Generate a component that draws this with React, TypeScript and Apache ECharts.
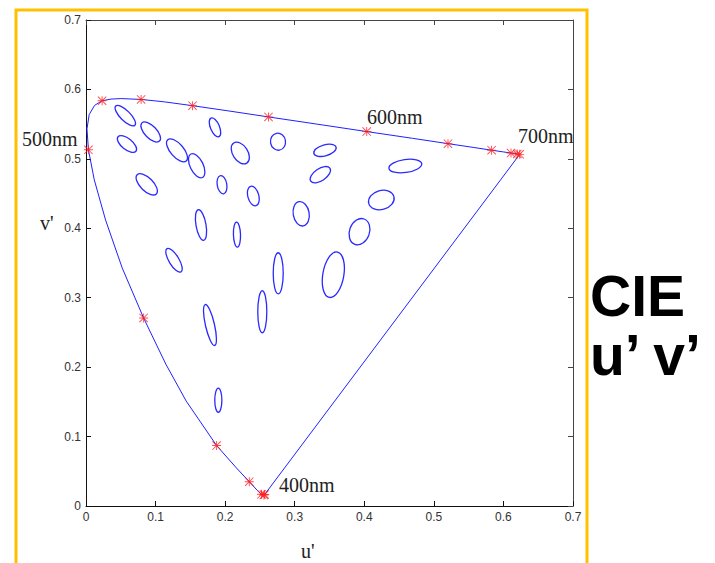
import React, { useEffect, useRef } from "react";
import * as echarts from "echarts";

// Spectral locus (CIE 1976 u'v'), wavelengths in nm
const wavelengths = [380, 390, 400, 410, 420, 430, 440, 450, 460, 470, 475, 480, 485, 490, 495, 500, 505, 510, 515, 520, 525, 530, 540, 550, 560, 570, 580, 590, 600, 610, 620, 630, 640, 650, 660, 670, 680, 690, 700];
const locusU = [0.2568, 0.2564, 0.2557, 0.2545, 0.2522, 0.2461, 0.2347, 0.2161, 0.1877, 0.1441, 0.1147, 0.0828, 0.0521, 0.0282, 0.0119, 0.0035, 0.0014, 0.0046, 0.0123, 0.0231, 0.036, 0.0501, 0.0792, 0.1127, 0.1531, 0.2026, 0.2623, 0.3315, 0.4035, 0.4692, 0.5203, 0.5565, 0.583, 0.6005, 0.6109, 0.6163, 0.6199, 0.622, 0.6234];
const locusV = [0.0166, 0.0163, 0.0159, 0.0159, 0.0169, 0.0226, 0.035, 0.0549, 0.0871, 0.151, 0.2044, 0.2708, 0.3427, 0.4117, 0.4698, 0.5131, 0.5432, 0.5638, 0.577, 0.5837, 0.5861, 0.5868, 0.5856, 0.5821, 0.5766, 0.5694, 0.5604, 0.5501, 0.5393, 0.5296, 0.5219, 0.5165, 0.5125, 0.5099, 0.5084, 0.5077, 0.507, 0.5067, 0.5065];
const markerWavelengths = [380, 400, 420, 440, 460, 480, 500, 520, 540, 560, 580, 600, 620, 640, 660, 680, 700];

// MacAdam ellipses: centre (u', v'), semi-axes (u' units), angle in degrees
const ellipseU = [0.0565, 0.093, 0.0589, 0.1308, 0.1591, 0.1854, 0.2218, 0.276, 0.3435, 0.459, 0.3368, 0.4245, 0.0873, 0.1955, 0.2405, 0.3093, 0.3931, 0.1653, 0.217, 0.1265, 0.2763, 0.3555, 0.2534, 0.1782, 0.1902];
const ellipseV = [0.5622, 0.5387, 0.5214, 0.5123, 0.4901, 0.5454, 0.5084, 0.5247, 0.5123, 0.4897, 0.4772, 0.4407, 0.4633, 0.4628, 0.4465, 0.4209, 0.3951, 0.4047, 0.3908, 0.3539, 0.3352, 0.3331, 0.2798, 0.2607, 0.1524];
const ellipseA = [0.0195, 0.0182, 0.0166, 0.0203, 0.0188, 0.0145, 0.0173, 0.0123, 0.0166, 0.0238, 0.0166, 0.0187, 0.0195, 0.0133, 0.0145, 0.0177, 0.0194, 0.0223, 0.018, 0.0195, 0.0295, 0.0331, 0.0302, 0.0302, 0.0173];
const ellipseB = [0.0072, 0.0087, 0.0079, 0.0094, 0.0094, 0.0065, 0.0108, 0.0108, 0.0079, 0.0094, 0.0087, 0.0137, 0.0094, 0.0069, 0.0079, 0.0115, 0.0144, 0.0072, 0.0051, 0.0072, 0.0072, 0.0151, 0.0065, 0.0065, 0.0051];
const ellipseAngle = [-45, -46, -39, -49, -64, -67, -57, -80, 16, 8, 34, 15, -45, -80, -75, -80, 70, -80, -88, -59, 90, 80, 90, -77, 90];

const axisTicks = [0, 0.1, 0.2, 0.3, 0.4, 0.5, 0.6, 0.7];

const SERIF = "'Liberation Serif', 'Times New Roman', 'DejaVu Serif', serif";
const SANS = "'Liberation Sans', Arial, Helvetica, sans-serif";

const ASTERISK =
  "path://M9 0H11V20H9Z M0 9H20V11H0Z M1.4 0L20 18.6L18.6 20L0 1.4Z M18.6 0L20 1.4L1.4 20L0 18.6Z";

export default function App() {
  const ref = useRef<HTMLDivElement>(null);

  useEffect(() => {
    document.body.style.margin = "0";
    if (!ref.current) return;
    const chart = echarts.init(ref.current, undefined, { renderer: "svg" });

    const locus = wavelengths.map((_, i) => [locusU[i], locusV[i]]);
    locus.push([locusU[0], locusV[0]]);
    const markers = markerWavelengths.map((w) => {
      const i = wavelengths.indexOf(w);
      return [locusU[i], locusV[i]];
    });
    const ellipses = ellipseU.map((u, i) => [u, ellipseV[i], ellipseA[i], ellipseB[i], ellipseAngle[i]]);

    const axisMin = axisTicks[0];
    const axisMax = axisTicks[axisTicks.length - 1];
    const step = axisTicks[1] - axisTicks[0];

    const baseAxis = {
      type: "value" as const,
      min: axisMin,
      max: axisMax,
      interval: step,
      splitLine: { show: false },
    };

    chart.setOption({
      animation: false,
      backgroundColor: "#ffffff",
      grid: { left: 86, top: 20, width: 487, height: 486, containLabel: false },
      xAxis: [
        {
          ...baseAxis,
          position: "bottom",
          axisLine: { show: true, onZero: false, lineStyle: { color: "#111", width: 1 } },
          axisTick: { show: true, inside: true, length: 5, lineStyle: { color: "#111" } },
          axisLabel: { color: "#333", fontSize: 12, fontFamily: SANS, margin: 5 },
        },
        {
          ...baseAxis,
          position: "top",
          axisLine: { show: true, onZero: false, lineStyle: { color: "#444", width: 1 } },
          axisTick: { show: true, inside: true, length: 5, lineStyle: { color: "#444" } },
          axisLabel: { show: false },
        },
      ],
      yAxis: [
        {
          ...baseAxis,
          position: "left",
          axisLine: { show: true, onZero: false, lineStyle: { color: "#111", width: 1 } },
          axisTick: { show: true, inside: true, length: 5, lineStyle: { color: "#111" } },
          axisLabel: { color: "#333", fontSize: 12, fontFamily: SANS, margin: 5 },
        },
        {
          ...baseAxis,
          position: "right",
          axisLine: { show: true, onZero: false, lineStyle: { color: "#444", width: 1 } },
          axisTick: { show: true, inside: true, length: 5, lineStyle: { color: "#444" } },
          axisLabel: { show: false },
        },
      ],
      series: [
        {
          type: "custom",
          name: "MacAdam ellipses",
          xAxisIndex: 0,
          yAxisIndex: 0,
          data: ellipses,
          renderItem: (_params: any, api: any) => {
            const c = api.coord([api.value(0), api.value(1)]);
            const s = api.size([api.value(2), api.value(3)]);
            return {
              type: "ellipse",
              x: c[0],
              y: c[1],
              rotation: (api.value(4) * Math.PI) / 180,
              shape: { cx: 0, cy: 0, rx: s[0], ry: s[1] },
              style: { fill: "none", stroke: "#2a2aff", lineWidth: 1.3 },
            };
          },
          z: 2,
        },
        {
          type: "line",
          name: "locus",
          xAxisIndex: 0,
          yAxisIndex: 0,
          data: locus,
          showSymbol: false,
          lineStyle: { color: "#2020ff", width: 1 },
          z: 3,
        },
        {
          type: "scatter",
          name: "markers",
          xAxisIndex: 0,
          yAxisIndex: 0,
          data: markers,
          symbol: ASTERISK,
          symbolSize: 9,
          itemStyle: { color: "#ff1a1a" },
          z: 4,
        },
      ],
      graphic: [
        {
          type: "rect",
          shape: { x: 16, y: 10, width: 571, height: 620 },
          style: { fill: "none", stroke: "#FFC000", lineWidth: 3 },
          silent: true,
        },
        { type: "text", x: 22, y: 139, style: { text: "500nm", font: `20px ${SERIF}`, fill: "#222", verticalAlign: "middle" } },
        { type: "text", x: 367, y: 117, style: { text: "600nm", font: `20px ${SERIF}`, fill: "#222", verticalAlign: "middle" } },
        { type: "text", x: 518, y: 136, style: { text: "700nm", font: `20px ${SERIF}`, fill: "#222", verticalAlign: "middle" } },
        { type: "text", x: 279, y: 485, style: { text: "400nm", font: `20px ${SERIF}`, fill: "#222", verticalAlign: "middle" } },
        { type: "text", x: 40, y: 223, style: { text: "v'", font: `20px ${SERIF}`, fill: "#222", verticalAlign: "middle" } },
        { type: "text", x: 301, y: 551, style: { text: "u'", font: `20px ${SERIF}`, fill: "#222", verticalAlign: "middle" } },
        { type: "text", x: 590, y: 296, style: { text: "CIE", font: `bold 57px ${SANS}`, fill: "#000", verticalAlign: "middle" } },
        { type: "text", x: 590, y: 355, style: { text: "u\u2019 v\u2019", font: `bold 57px ${SANS}`, fill: "#000", verticalAlign: "middle" } },
      ],
    });

    return () => chart.dispose();
  }, []);

  return <div ref={ref} style={{ width: 715, height: 563 }} />;
}
